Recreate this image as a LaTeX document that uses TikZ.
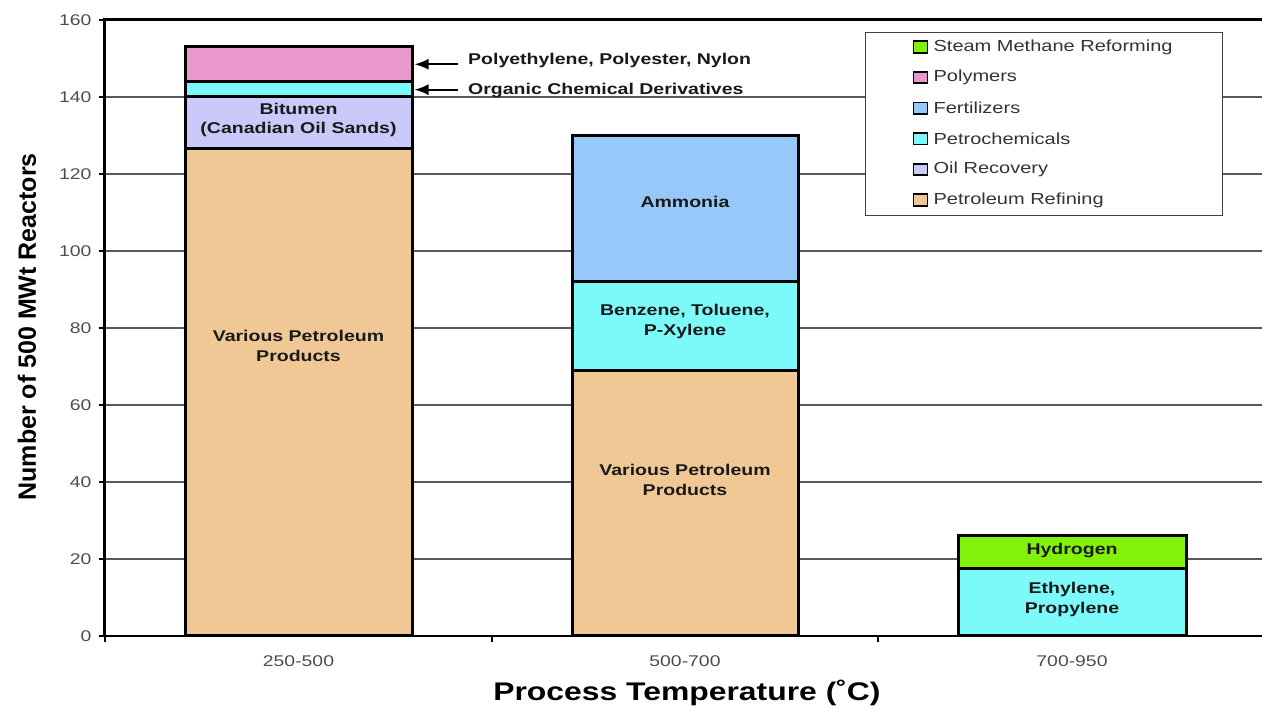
\documentclass[tikz,border=0pt]{standalone}
\usepackage{fontspec}
\setmainfont{Liberation Sans}
\newfontfamily\chartfont[FakeStretch=1.25]{Liberation Sans}
\usetikzlibrary{arrows.meta,positioning}
\definecolor{refining}{RGB}{240,200,150}
\definecolor{oilrec}{RGB}{202,202,250}
\definecolor{petrochem}{RGB}{124,250,250}
\definecolor{polymer}{RGB}{232,152,202}
\definecolor{fertil}{RGB}{150,200,250}
\definecolor{steam}{RGB}{130,242,10}

\begin{document}
\begin{tikzpicture}[x=1pt,y=3.85pt,
    seg/.style={draw=black,line width=3pt},
    blabel/.style={font=\chartfont\bfseries\fontsize{15.6}{19.5}\selectfont,align=center,text=black!90},
    alabel/.style={font=\chartfont\bfseries\fontsize{15.6}{18}\selectfont,text=black!90,anchor=west,inner sep=0pt},
    pointer/.style={line width=2pt,-{Latex[length=14pt,width=11pt]}},
    gridline/.style={draw=black!65,line width=1.2pt},
    ticklabel/.style={font=\chartfont\fontsize{15.5}{18}\selectfont,text=black!70},
    keybox/.style={draw=black,line width=1.8pt,minimum width=14pt,minimum height=11.5pt,inner sep=0pt},
    keytext/.style={font=\chartfont\fontsize{16}{19}\selectfont,text=black!80,inner sep=0pt,anchor=west}
    ]
\useasboundingbox (-105pt,-73pt) rectangle (1157pt,636pt);

% grid and axes
\foreach \v in {20,40,...,140}
  \draw[gridline] (0,\v) -- (1157,\v);
\foreach \v in {0,20,...,160}{
  \draw[line width=1.2pt] (-6,\v) -- (0,\v);
  \node[ticklabel,anchor=east] (yl\v) at (-10,\v) {\v};
}
\draw[line width=1.5pt] (0,0) -- (1157,0);
\foreach \x in {0,387,773}
  \draw[line width=1.2pt] (\x,0) -- (\x,-1.6);
\draw[line width=3pt] (0,0) -- (0,160) -- (1157,160);

\node[ticklabel] (xl1) at (193.5,-6.6) {250-500};
\node[ticklabel] (xl2) at (580,-6.6) {500-700};
\node[ticklabel] (xl3) at (967,-6.6) {700-950};
\node[font=\chartfont\bfseries\fontsize{25.5}{28}\selectfont] (xtitle) at (582,-14.9) {Process Temperature (˚C)};
\node[font=\bfseries\fontsize{25}{28}\selectfont,rotate=90] (ytitle) at (-78,80.3) {Number of 500 MWt Reactors};

% legend
\node[draw=black!75,fill=white,line width=1pt,minimum width=357pt,minimum height=183pt,anchor=north west] (legend) at (760,156.9) {};
\foreach \col/\txt [count=\i] in {steam/Steam Methane Reforming,polymer/Polymers,fertil/Fertilizers,petrochem/Petrochemicals,oilrec/Oil Recovery,refining/Petroleum Refining}{
  \node[keybox,fill=\col] (key\i) at (815.5,{153-7.95*(\i-1)}) {};
  \node[keytext,right=5pt of key\i] (keyt\i) {\txt};
}

% 250-500
\draw[seg,fill=refining] (80,0) rectangle (307,126.5);
\draw[seg,fill=oilrec] (80,126.5) rectangle (307,140);
\draw[seg,fill=petrochem] (80,140) rectangle (307,143.9);
\draw[seg,fill=polymer] (80,143.9) rectangle (307,153);
\node[blabel] (various1) at (193.5,75.3) {Various Petroleum\\Products};
\node[blabel] (bitumen) at (193.5,134) {Bitumen\\(Canadian Oil Sands)};
\coordinate (polytip) at (309.5,148.5);
\coordinate (orgtip) at (309.5,141.9);
\node[alabel] (polyl) at (363,149.4) {Polyethylene, Polyester, Nylon};
\node[alabel] (orgl) at (363,141.6) {Organic Chemical Derivatives};
\draw[pointer] ([xshift=-10pt]polyl.west |- polytip) -- (polytip);
\draw[pointer] ([xshift=-10pt]orgl.west |- orgtip) -- (orgtip);

% 500-700
\draw[seg,fill=refining] (467,0) rectangle (693,69);
\draw[seg,fill=petrochem] (467,69) rectangle (693,92);
\draw[seg,fill=fertil] (467,92) rectangle (693,130);
\node[blabel] (various2) at (580,40.5) {Various Petroleum\\Products};
\node[blabel] (benzene) at (580,81.7) {Benzene, Toluene,\\P-Xylene};
\node[blabel] (ammonia) at (580,112.7) {Ammonia};

% 700-950
\draw[seg,fill=petrochem] (853,0) rectangle (1081,17.5);
\draw[seg,fill=steam] (853,17.5) rectangle (1081,26);
\node[blabel] (ethylene) at (967,9.5) {Ethylene,\\Propylene};
\node[blabel] (hydrogen) at (967,22.2) {Hydrogen};
\end{tikzpicture}
\end{document}
